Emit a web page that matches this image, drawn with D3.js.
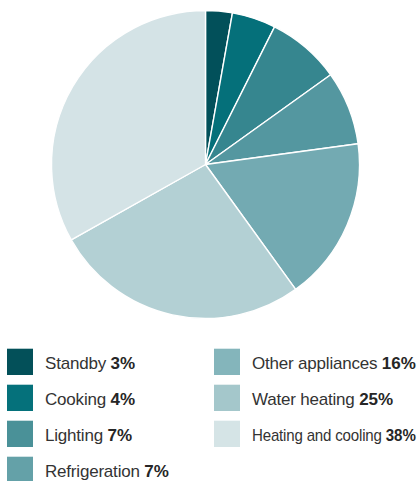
<!DOCTYPE html>
<html>
<head>
<meta charset="utf-8">
<script src="https://cdn.jsdelivr.net/npm/d3@7"></script>
<style>
  html, body { margin: 0; padding: 0; background: #ffffff; }
  svg { display: block; }
</style>
</head>
<body>
<div id="chart"></div>
<script>
// Categories and values
const categories = ["Standby", "Cooking", "Lighting", "Refrigeration", "Other appliances", "Water heating", "Heating and cooling"];
// Percent labels printed in the legend
const percentLabels = ["3%", "4%", "7%", "7%", "16%", "25%", "38%"];
// Slice shares as drawn in the pie
const sliceShares = [2.8, 4.6, 7.7, 7.75, 17.2, 26.8, 33.15];
// Colours
const sliceColors = ["#02505a", "#05707a", "#36868f", "#5497a0", "#73aab2", "#b3d0d4", "#d4e3e6"];
const legendColors = ["#035059", "#05717b", "#4a9198", "#64a1a8", "#84b5bb", "#a4c7cb", "#d5e4e6"];

const W = 418, H = 481;
const svg = d3.select("#chart").append("svg").attr("width", W).attr("height", H);

const data = categories.map((c, i) => ({ name: c, share: sliceShares[i], label: percentLabels[i], sc: sliceColors[i], lc: legendColors[i] }));

// Pie
const cx = 205.5, cy = 164.5, R = 154;
const pie = d3.pie().sort(null).value(d => d.share);
const arc = d3.arc().innerRadius(0).outerRadius(R);
const g = svg.append("g").attr("transform", `translate(${cx},${cy})`);
g.selectAll("path").data(pie(data)).join("path")
  .attr("d", arc)
  .attr("fill", d => d.data.sc)
  .attr("stroke", "#ffffff")
  .attr("stroke-width", 1.4)
  .attr("stroke-linejoin", "round");

// Legend
const colX = [7, 214];
const rowY = d3.scaleLinear().domain([0, 1]).range([349, 385]);
const layout = [[0,0],[0,1],[0,2],[0,3],[1,0],[1,1],[1,2]];
const sw = 26;
const lg = svg.append("g");
data.forEach((d, i) => {
  const [col, row] = layout[i];
  const x = colX[col], y = rowY(row);
  lg.append("rect").attr("x", x).attr("y", y).attr("width", sw).attr("height", sw).attr("fill", d.lc);
  lg.append("rect").attr("x", x).attr("y", y - 1).attr("width", sw).attr("height", 1)
    .attr("fill", d3.interpolateRgb(d.lc, "#ffffff")(0.7));
  const tx = x + 38, ty = y + 20;
  const t = lg.append("text")
    .attr("transform", `translate(${tx},${ty})`)
    .attr("font-family", "'Liberation Sans', Arial, Helvetica, sans-serif")
    .attr("font-size", 17)
    .attr("fill", "#333333");
  t.append("tspan").attr("letter-spacing", -0.2).text(d.name + " ");
  t.append("tspan").attr("font-weight", "bold").attr("fill", "#262626").text(d.label);
  // squeeze horizontally to fit the available width if needed
  const total = t.node().getComputedTextLength();
  const avail = W - 2 - tx;
  if (total > avail) {
    t.attr("transform", `translate(${tx},${ty}) scale(${avail / total},1)`);
  }
});
</script>
</body>
</html>
